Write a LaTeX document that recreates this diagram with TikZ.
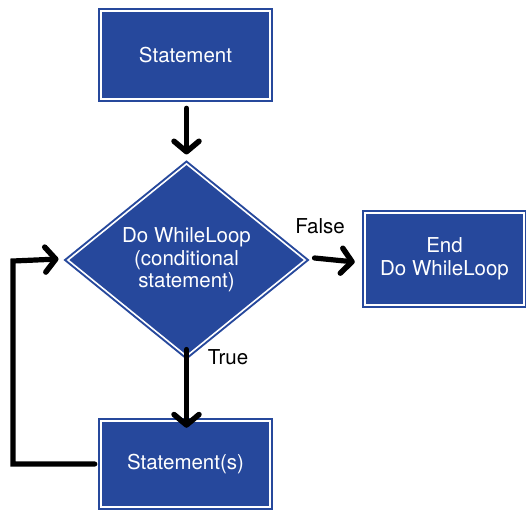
\documentclass[tikz,border=0pt]{standalone}
\usepackage{fontspec}
\setmainfont{TeX Gyre Heros}
\usetikzlibrary{shapes.geometric,arrows.meta}
\definecolor{fcblue}{RGB}{38,72,156}
\tikzset{
  box/.style={rectangle, fill=fcblue, draw=fcblue, line width=2pt, double=white, double distance=1.6pt,
    inner sep=0pt, text=white, align=center, font=\fontsize{20.5}{22.5}\selectfont},
  decision/.style={diamond, fill=fcblue, draw=fcblue, line width=2pt, double=white, double distance=1.6pt,
    inner sep=0pt, text=white, align=center, font=\fontsize{20.5}{22.5}\selectfont},
  arr/.style={line width=5.2pt, line cap=round, -{Straight Barb[length=10.5pt,width=25pt,line width=5.5pt,round=false]}},
  lbl/.style={font=\fontsize{20.5}{22.5}\selectfont, text=black, inner sep=0pt}
}
\begin{document}
\begin{tikzpicture}[x=1pt,y=-1pt]
\useasboundingbox (0,0) rectangle (526,511);
\node[box, minimum width=168.5pt, minimum height=88.5pt] (stmt) at (185.5,55) {Statement};
\node[decision, minimum width=238pt, minimum height=182pt] (cond) at (186.5,260) {Do WhileLoop\\(conditional\\statement)};
\node[box, minimum width=159.5pt, minimum height=92.5pt] (end) at (444.5,259) {End\\Do WhileLoop};
\node[box, minimum width=169.5pt, minimum height=86.5pt] (body) at (185.5,464) {Statement(s)};
\node[lbl] (f) at (320,226) {False};
\node[lbl] (t) at (228,357) {True};
\coordinate (lc) at (13,261);
\draw[arr] ([xshift=1,yshift=-8]stmt.south) -- ([yshift=8]cond.north);
\draw[arr] ([yshift=8]cond.south) -- ([xshift=1,yshift=-8]body.north);
\draw[arr] ([xshift=8,yshift=2]cond.east) -- ([xshift=-9]end.west |- {(0,262)});
\draw[arr] ([xshift=-5]body.west) -| (lc) -- ([xshift=-8,yshift=1]cond.west);
\end{tikzpicture}
\end{document}
